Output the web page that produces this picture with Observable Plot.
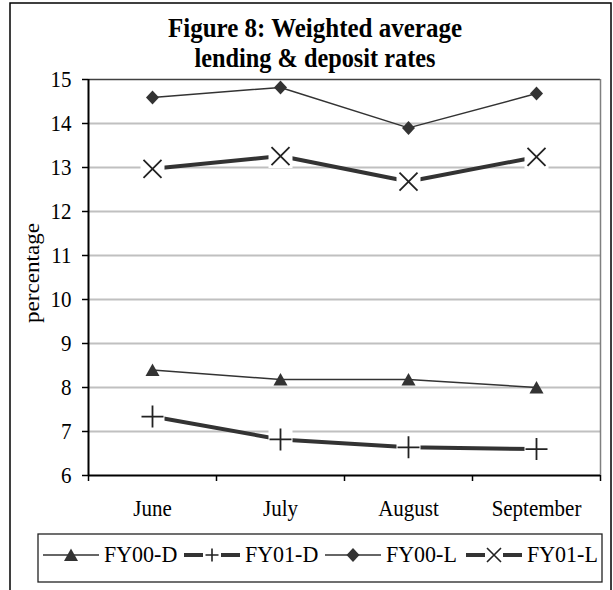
<!DOCTYPE html>
<html><head><meta charset="utf-8">
<script src="https://cdn.jsdelivr.net/npm/d3@7"></script>
<script src="https://cdn.jsdelivr.net/npm/@observablehq/plot@0.6"></script>
<style>
body{margin:0;background:#fff;}
#wrap{position:relative;width:613px;height:590px;overflow:hidden;background:#fff;}
#wrap svg{position:absolute;left:0;top:0;}
</style></head><body><div id="wrap"></div>
<script>
const months = ["June","July","August","September"];
const seriesNames = ["FY00-D","FY01-D","FY00-L","FY01-L"];
const fy00D = [8.4, 8.18, 8.18, 8.0];
const fy01D = [7.34, 6.82, 6.64, 6.6];
const fy00L = [14.59, 14.82, 13.9, 14.68];
const fy01L = [12.97, 13.26, 12.68, 13.24];
const yTicks = [6,7,8,9,10,11,12,13,14,15];
const titleLines = ["Figure 8: Weighted average","lending & deposit rates"];
const yLabel = "percentage";

const serif = "'Liberation Serif','Times New Roman',serif";
const values = [fy00D, fy01D, fy00L, fy01L];
const rows = [];
seriesNames.forEach((s, k) => values[k].forEach((v, i) => rows.push({series: s, month: months[i], value: v})));
const bySeries = s => rows.filter(d => d.series === s);
const xPos = d => months.indexOf(d.month) + 0.5;

const sym = {
  triangle: {draw(c){c.moveTo(0,-6.5);c.lineTo(7,6);c.lineTo(-7,6);c.closePath();}},
  diamond: {draw(c){c.moveTo(0,-7);c.lineTo(6.5,0);c.lineTo(0,7);c.lineTo(-6.5,0);c.closePath();}},
  plus: {draw(c){c.moveTo(-11,0);c.lineTo(11,0);c.moveTo(0,-11);c.lineTo(0,11);}},
  times: {draw(c){c.moveTo(-9,-9);c.lineTo(9,9);c.moveTo(9,-9);c.lineTo(-9,9);}},
  box: {draw(c){c.rect(-12,-12,24,24);}},
  plusS: {draw(c){c.moveTo(-6.5,0);c.lineTo(6.5,0);c.moveTo(0,-6.5);c.lineTo(0,6.5);}},
  timesS: {draw(c){c.moveTo(-7,-7);c.lineTo(7,7);c.moveTo(7,-7);c.lineTo(-7,7);}},
  boxS: {draw(c){c.rect(-9,-9,18,18);}}
};
const style = [
  {width:1.5, marker:sym.triangle, filled:true, legendMarker:sym.triangle},
  {width:4, marker:sym.plus, filled:false, legendMarker:sym.plusS, legendBox:sym.boxS},
  {width:1.5, marker:sym.diamond, filled:true, legendMarker:sym.diamond},
  {width:4, marker:sym.times, filled:false, legendMarker:sym.timesS, legendBox:sym.boxS}
];
const lineColor = "#333";

const seriesMarks = [];
seriesNames.forEach((s, k) => {
  const st = style[k];
  seriesMarks.push(Plot.line(bySeries(s), {x: xPos, y: "value", stroke: lineColor, strokeWidth: st.width}));
  if (st.filled) {
    seriesMarks.push(Plot.dot(bySeries(s), {x: xPos, y: "value", symbol: st.marker, fill: lineColor, stroke: "none"}));
  } else {
    seriesMarks.push(Plot.dot(bySeries(s), {x: xPos, y: "value", symbol: sym.box, fill: "white", stroke: "none"}));
    seriesMarks.push(Plot.dot(bySeries(s), {x: xPos, y: "value", symbol: st.marker, fill: "none", stroke: "#222", strokeWidth: 1.8}));
  }
});

const chart = Plot.plot({
  width: 613, height: 530,
  marginTop: 79, marginLeft: 88, marginRight: 13, marginBottom: 55,
  style: {fontFamily: serif, fontSize: "21px", color: "#000", background: "transparent"},
  x: {domain: [0, 4], axis: null},
  y: {domain: [6, 15], axis: null},
  marks: [
    Plot.ruleY(yTicks.slice(1, -1), {stroke: "#c0c0c0", strokeWidth: 2}),
    Plot.ruleY([15], {stroke: "#404040", strokeWidth: 1.5}),
    Plot.ruleX([4], {stroke: "#808080", strokeWidth: 1.5}),
    Plot.axisY({ticks: yTicks, tickSize: 6, tickPadding: 11, tickFormat: d => String(d), fontSize: 21, label: null, strokeWidth: 1.5}),
    Plot.axisX({ticks: [0, 1, 2, 3, 4], tickSize: 6, tickFormat: () => "", label: null, strokeWidth: 1.5}),
    Plot.axisX({ticks: months.map((m, i) => i + 0.5), tickSize: 0, tickPadding: 24, tickFormat: d => months[Math.floor(d)], label: null, fontSize: 21}),
    Plot.ruleX([0], {stroke: "#000", strokeWidth: 2}),
    Plot.ruleY([6], {stroke: "#000", strokeWidth: 2}),
    ...seriesMarks
  ]
});

// slightly taller glyphs, as in the reference rendering
d3.select(chart).selectAll('g[aria-label$="tick label"] text').each(function () {
  const t = this.getAttribute("transform");
  if (t && t.includes("translate")) this.setAttribute("transform", t + " scale(1,1.08)");
});

const wrap = document.getElementById("wrap");
wrap.appendChild(chart);

// overlay: frame, title, y label, legend
const ov = d3.select(wrap).append("svg").attr("width", 613).attr("height", 590)
  .style("pointer-events", "none").attr("font-family", serif);
ov.append("rect").attr("x", 10).attr("y", 3).attr("width", 601).attr("height", 640)
  .attr("fill", "none").attr("stroke", "#000").attr("stroke-width", 1.5);
const tl = [[36.7, 294], [66.7, 241]];
titleLines.forEach((t, i) => {
  ov.append("text").attr("transform", `translate(315,${tl[i][0]}) scale(1,1.04)`).attr("text-anchor", "middle")
    .attr("font-size", 26).attr("font-weight", "bold").attr("textLength", tl[i][1])
    .attr("lengthAdjust", "spacingAndGlyphs").text(t);
});
ov.append("text").attr("transform", "translate(39,273) rotate(-90)").attr("text-anchor", "middle")
  .attr("font-size", 22).attr("textLength", 100).attr("lengthAdjust", "spacingAndGlyphs").text(yLabel);

ov.append("rect").attr("x", 38).attr("y", 534).attr("width", 564).attr("height", 48)
  .attr("fill", "none").attr("stroke", "#222").attr("stroke-width", 1.3);
seriesNames.forEach((s, k) => {
  const st = style[k];
  const x0 = 43 + k * 141, ly = 555;
  ov.append("line").attr("x1", x0).attr("x2", x0 + 56).attr("y1", ly).attr("y2", ly)
    .attr("stroke", lineColor).attr("stroke-width", st.width);
  const g = ov.append("g").attr("transform", `translate(${x0 + 28},${ly})`);
  if (st.filled) {
    g.append("path").attr("d", d3.symbol().type(st.legendMarker)()).attr("fill", lineColor);
  } else {
    g.append("path").attr("d", d3.symbol().type(st.legendBox)()).attr("fill", "white");
    g.append("path").attr("d", d3.symbol().type(st.legendMarker)()).attr("fill", "none")
      .attr("stroke", "#222").attr("stroke-width", 1.6);
  }
  ov.append("text").attr("transform", `translate(${x0 + 61},561.5) scale(1,1.06)`).attr("font-size", 22).text(s);
});
</script></body></html>
